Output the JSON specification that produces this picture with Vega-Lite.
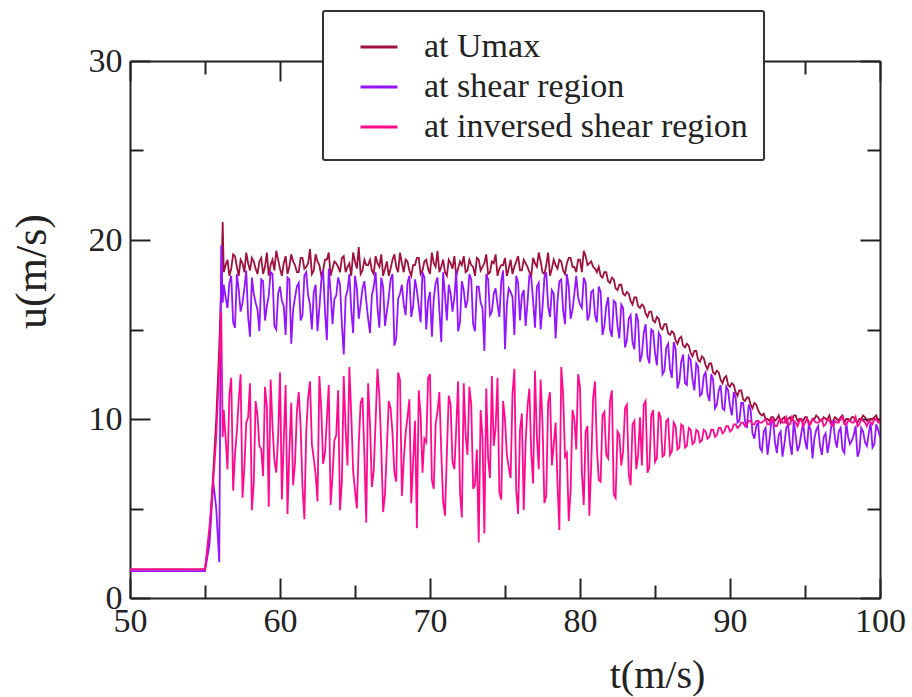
{
  "$schema": "https://vega.github.io/schema/vega-lite/v6.json",
  "width": 750,
  "height": 537,
  "autosize": {"type": "none"},
  "padding": {"left": 130, "top": 61, "right": 32, "bottom": 99},
  "background": "white",
  "config": {
    "font": "Liberation Serif",
    "view": {"stroke": null},
    "axis": {
      "domainColor": "#222",
      "domainWidth": 2,
      "tickColor": "#222",
      "tickWidth": 2,
      "grid": false,
      "labelFont": "Liberation Serif",
      "labelFontSize": 34,
      "labelColor": "#222",
      "titleFont": "Liberation Serif",
      "titleFontWeight": "normal",
      "titleColor": "#222",
      "labelOverlap": false,
      "labelFlush": false
    },
    "legend": {"strokeWidth": 2, "cornerRadius": 2, "labelFont": "Liberation Serif"}
  },
  "datasets": {
    "series": [
      {"t":50,"a":1.6,"b":1.5,"c":1.6},
      {"t":55,"a":1.6,"b":1.5,"c":1.6},
      {"t":55.3,"a":3.5,"b":3.0,"c":4.0},
      {"t":55.55,"a":7.0,"b":6.5,"c":6.5},
      {"t":55.75,"a":10.0,"b":5.0,"c":9.0},
      {"t":55.95,"a":14.0,"b":2.0,"c":13.0},
      {"t":56.08,"a":17.5,"b":19.7,"c":16.0},
      {"t":56.18,"a":21.0,"b":16.5,"c":9.0},
      {"t":56.25,"a":18.2,"b":17.5,"c":10.5},
      {"t":56.5,"a":18.9,"b":16.2,"c":7.2},
      {"t":56.75,"a":18.4,"b":18.0,"c":12.3},
      {"t":57,"a":19.1,"b":15.1,"c":8.0},
      {"t":57.25,"a":18.0,"b":17.2,"c":11.1},
      {"t":57.5,"a":18.7,"b":16.5,"c":5.6},
      {"t":57.75,"a":19.3,"b":18.3,"c":9.8},
      {"t":58,"a":18.3,"b":14.6,"c":12.0},
      {"t":58.25,"a":18.8,"b":17.0,"c":6.4},
      {"t":58.5,"a":18.1,"b":16.1,"c":10.2},
      {"t":58.75,"a":19.0,"b":17.8,"c":8.3},
      {"t":59,"a":18.5,"b":15.5,"c":11.8},
      {"t":59.25,"a":18.0,"b":16.9,"c":5.1},
      {"t":59.5,"a":18.9,"b":18.1,"c":9.6},
      {"t":59.75,"a":19.4,"b":15.0,"c":7.0},
      {"t":60,"a":18.4,"b":17.4,"c":12.6},
      {"t":60.25,"a":18.7,"b":16.3,"c":8.8},
      {"t":60.5,"a":18.1,"b":17.9,"c":4.7},
      {"t":60.75,"a":19.2,"b":14.2,"c":10.9},
      {"t":61,"a":18.6,"b":16.8,"c":7.5},
      {"t":61.25,"a":18.2,"b":17.6,"c":11.5},
      {"t":61.5,"a":19.0,"b":15.8,"c":6.2},
      {"t":61.75,"a":18.5,"b":18.2,"c":9.3},
      {"t":62,"a":19.5,"b":16.4,"c":12.1},
      {"t":62.25,"a":18.3,"b":17.1,"c":7.8},
      {"t":62.5,"a":18.8,"b":14.9,"c":5.4},
      {"t":62.75,"a":18.0,"b":17.7,"c":10.6},
      {"t":63,"a":18.9,"b":16.0,"c":8.1},
      {"t":63.25,"a":19.3,"b":18.4,"c":11.9},
      {"t":63.5,"a":18.4,"b":15.3,"c":6.8},
      {"t":63.75,"a":18.7,"b":16.9,"c":9.1},
      {"t":64,"a":18.2,"b":17.5,"c":4.9},
      {"t":64.25,"a":19.1,"b":13.6,"c":12.4},
      {"t":64.5,"a":18.5,"b":17.2,"c":7.4},
      {"t":64.75,"a":18.0,"b":16.1,"c":10.3},
      {"t":65,"a":18.8,"b":18.0,"c":6.0},
      {"t":65.25,"a":19.6,"b":15.6,"c":8.6},
      {"t":65.5,"a":18.3,"b":17.3,"c":11.2},
      {"t":65.75,"a":18.6,"b":16.6,"c":4.2},
      {"t":66,"a":18.9,"b":14.8,"c":9.7},
      {"t":66.25,"a":18.1,"b":17.4,"c":7.1},
      {"t":66.5,"a":18.7,"b":16.2,"c":12.8},
      {"t":66.75,"a":19.2,"b":17.9,"c":8.4},
      {"t":67,"a":18.4,"b":15.2,"c":5.8},
      {"t":67.25,"a":18.0,"b":16.8,"c":11.0},
      {"t":67.5,"a":18.9,"b":18.1,"c":9.2},
      {"t":67.75,"a":18.5,"b":14.5,"c":6.5},
      {"t":68,"a":19.3,"b":17.0,"c":12.2},
      {"t":68.25,"a":18.2,"b":16.4,"c":7.7},
      {"t":68.5,"a":18.8,"b":17.6,"c":10.1},
      {"t":68.75,"a":18.0,"b":15.7,"c":5.3},
      {"t":69,"a":18.6,"b":17.8,"c":9.9},
      {"t":69.25,"a":19.0,"b":16.3,"c":11.6},
      {"t":69.5,"a":18.3,"b":18.2,"c":7.0},
      {"t":69.75,"a":18.9,"b":15.0,"c":8.7},
      {"t":70,"a":18.1,"b":17.1,"c":12.5},
      {"t":70.25,"a":18.7,"b":16.7,"c":6.1},
      {"t":70.5,"a":19.4,"b":17.9,"c":10.4},
      {"t":70.75,"a":18.5,"b":14.3,"c":8.2},
      {"t":71,"a":18.2,"b":16.9,"c":4.6},
      {"t":71.25,"a":18.9,"b":17.5,"c":11.3},
      {"t":71.5,"a":18.4,"b":16.0,"c":7.6},
      {"t":71.75,"a":18.0,"b":18.3,"c":9.5},
      {"t":72,"a":18.8,"b":15.4,"c":5.9},
      {"t":72.25,"a":19.1,"b":17.2,"c":12.0},
      {"t":72.5,"a":18.3,"b":16.6,"c":8.0},
      {"t":72.75,"a":18.6,"b":17.8,"c":10.8},
      {"t":73,"a":18.0,"b":14.9,"c":6.3},
      {"t":73.25,"a":18.9,"b":17.4,"c":3.1},
      {"t":73.5,"a":18.5,"b":16.2,"c":9.0},
      {"t":73.75,"a":19.2,"b":18.1,"c":11.7},
      {"t":74,"a":18.2,"b":15.8,"c":6.7},
      {"t":74.25,"a":18.7,"b":17.0,"c":8.5},
      {"t":74.5,"a":18.0,"b":16.4,"c":12.3},
      {"t":74.75,"a":18.6,"b":17.7,"c":5.5},
      {"t":75,"a":19.0,"b":13.9,"c":10.0},
      {"t":75.25,"a":18.4,"b":17.3,"c":7.3},
      {"t":75.5,"a":18.1,"b":16.8,"c":11.4},
      {"t":75.75,"a":18.8,"b":18.0,"c":6.0},
      {"t":76,"a":18.3,"b":15.5,"c":9.4},
      {"t":76.25,"a":18.9,"b":17.2,"c":4.9},
      {"t":76.5,"a":18.5,"b":16.5,"c":10.7},
      {"t":76.75,"a":18.0,"b":17.9,"c":8.1},
      {"t":77,"a":18.7,"b":15.1,"c":12.7},
      {"t":77.25,"a":19.3,"b":17.6,"c":7.2},
      {"t":77.5,"a":18.2,"b":16.2,"c":9.8},
      {"t":77.75,"a":18.6,"b":18.2,"c":5.7},
      {"t":78,"a":18.0,"b":15.7,"c":11.5},
      {"t":78.25,"a":18.9,"b":17.0,"c":8.6},
      {"t":78.5,"a":18.4,"b":16.6,"c":6.4},
      {"t":78.75,"a":18.8,"b":17.8,"c":12.9},
      {"t":79,"a":18.1,"b":15.3,"c":7.9},
      {"t":79.25,"a":19.0,"b":17.4,"c":4.3},
      {"t":79.5,"a":18.5,"b":16.1,"c":10.5},
      {"t":79.75,"a":18.2,"b":18.0,"c":8.3},
      {"t":80,"a":18.9,"b":16.4,"c":11.8},
      {"t":80.25,"a":19.4,"b":17.9,"c":5.2},
      {"t":80.5,"a":18.6,"b":15.5,"c":9.6},
      {"t":80.75,"a":18.8,"b":17.1,"c":7.5},
      {"t":81,"a":18.4,"b":15.8,"c":12.1},
      {"t":81.25,"a":18.5,"b":17.4,"c":6.6},
      {"t":81.5,"a":17.9,"b":14.7,"c":10.2},
      {"t":81.75,"a":18.2,"b":16.3,"c":8.0},
      {"t":82,"a":17.6,"b":15.0,"c":11.0},
      {"t":82.25,"a":17.8,"b":16.6,"c":5.8},
      {"t":82.5,"a":17.2,"b":15.2,"c":9.3},
      {"t":82.75,"a":17.5,"b":16.4,"c":7.4},
      {"t":83,"a":16.9,"b":14.0,"c":10.6},
      {"t":83.25,"a":17.0,"b":15.6,"c":6.9},
      {"t":83.5,"a":16.4,"b":14.3,"c":9.7},
      {"t":83.75,"a":16.8,"b":15.9,"c":7.2},
      {"t":84,"a":16.2,"b":13.2,"c":10.1},
      {"t":84.25,"a":16.3,"b":14.8,"c":10.8},
      {"t":84.5,"a":15.7,"b":13.5,"c":7.0},
      {"t":84.75,"a":16.0,"b":15.0,"c":10.2},
      {"t":85,"a":15.4,"b":13.7,"c":7.6},
      {"t":85.25,"a":15.6,"b":14.8,"c":10.4},
      {"t":85.5,"a":15.0,"b":12.5,"c":7.9},
      {"t":85.75,"a":15.3,"b":14.0,"c":9.9},
      {"t":86,"a":14.7,"b":12.8,"c":8.0},
      {"t":86.25,"a":14.8,"b":14.3,"c":9.8},
      {"t":86.5,"a":14.2,"b":11.7,"c":8.3},
      {"t":86.75,"a":14.6,"b":13.2,"c":9.7},
      {"t":87,"a":14.0,"b":12.0,"c":8.4},
      {"t":87.25,"a":14.1,"b":13.5,"c":9.5},
      {"t":87.5,"a":13.5,"b":12.2,"c":8.6},
      {"t":87.75,"a":13.8,"b":13.1,"c":9.4},
      {"t":88,"a":13.2,"b":11.3,"c":8.7},
      {"t":88.25,"a":13.4,"b":12.4,"c":9.4},
      {"t":88.5,"a":12.8,"b":11.4,"c":8.9},
      {"t":88.75,"a":13.1,"b":12.5,"c":9.4},
      {"t":89,"a":12.5,"b":10.6,"c":9.0},
      {"t":89.25,"a":12.6,"b":11.6,"c":9.5},
      {"t":89.5,"a":12.0,"b":10.6,"c":9.2},
      {"t":89.75,"a":12.4,"b":11.8,"c":9.6},
      {"t":90,"a":11.8,"b":10.7,"c":9.3},
      {"t":90.25,"a":11.9,"b":11.5,"c":9.7},
      {"t":90.5,"a":11.3,"b":9.8,"c":9.5},
      {"t":90.75,"a":11.6,"b":10.9,"c":9.8},
      {"t":91,"a":11.0,"b":9.9,"c":9.6},
      {"t":91.25,"a":11.2,"b":10.8,"c":9.9},
      {"t":91.5,"a":10.6,"b":9.2,"c":9.7},
      {"t":91.75,"a":10.8,"b":9.6,"c":9.9},
      {"t":92,"a":10.3,"b":8.4,"c":9.8},
      {"t":92.25,"a":10.3,"b":9.3,"c":9.9},
      {"t":92.5,"a":10.0,"b":8.0,"c":9.7},
      {"t":92.75,"a":10.1,"b":9.8,"c":10.0},
      {"t":93,"a":9.9,"b":8.7,"c":9.6},
      {"t":93.25,"a":10.2,"b":9.1,"c":9.9},
      {"t":93.5,"a":10.0,"b":7.9,"c":9.8},
      {"t":93.75,"a":9.8,"b":9.5,"c":10.1},
      {"t":94,"a":10.1,"b":8.6,"c":9.7},
      {"t":94.25,"a":10.2,"b":9.9,"c":9.9},
      {"t":94.5,"a":9.9,"b":8.2,"c":9.6},
      {"t":94.75,"a":10.0,"b":9.2,"c":10.0},
      {"t":95,"a":10.1,"b":8.8,"c":9.8},
      {"t":95.25,"a":9.8,"b":9.7,"c":9.7},
      {"t":95.5,"a":10.0,"b":7.8,"c":10.0},
      {"t":95.75,"a":10.2,"b":9.4,"c":9.8},
      {"t":96,"a":9.9,"b":8.5,"c":9.9},
      {"t":96.25,"a":10.1,"b":9.0,"c":9.6},
      {"t":96.5,"a":10.0,"b":8.1,"c":10.0},
      {"t":96.75,"a":9.8,"b":9.6,"c":9.7},
      {"t":97,"a":10.1,"b":8.9,"c":9.9},
      {"t":97.25,"a":9.9,"b":9.3,"c":9.8},
      {"t":97.5,"a":10.2,"b":8.3,"c":10.1},
      {"t":97.75,"a":10.0,"b":9.8,"c":9.7},
      {"t":98,"a":9.9,"b":8.6,"c":9.9},
      {"t":98.25,"a":10.1,"b":9.1,"c":9.8},
      {"t":98.5,"a":9.8,"b":7.9,"c":9.6},
      {"t":98.75,"a":10.0,"b":9.5,"c":10.0},
      {"t":99,"a":10.1,"b":8.7,"c":9.8},
      {"t":99.25,"a":9.9,"b":9.2,"c":9.9},
      {"t":99.5,"a":10.0,"b":8.4,"c":9.7},
      {"t":99.75,"a":10.2,"b":9.7,"c":10.0},
      {"t":100,"a":9.9,"b":9.0,"c":9.8},
      {"t":56.375,"a":18.6,"b":16.8,"c":8.9},
      {"t":56.625,"a":18.0,"b":17.6,"c":11.4},
      {"t":56.875,"a":19.2,"b":15.4,"c":6.0},
      {"t":57.125,"a":18.5,"b":18.1,"c":9.3},
      {"t":57.375,"a":18.9,"b":16.0,"c":12.5},
      {"t":57.625,"a":18.2,"b":17.3,"c":7.3},
      {"t":57.875,"a":18.7,"b":15.7,"c":10.1},
      {"t":58.125,"a":19.0,"b":17.9,"c":4.9},
      {"t":58.375,"a":18.4,"b":16.5,"c":11.0},
      {"t":58.625,"a":18.8,"b":14.9,"c":8.5},
      {"t":58.875,"a":18.1,"b":17.7,"c":6.8},
      {"t":59.125,"a":19.3,"b":16.3,"c":10.7},
      {"t":59.375,"a":18.6,"b":18.2,"c":12.2},
      {"t":59.625,"a":18.3,"b":15.2,"c":7.7},
      {"t":59.875,"a":18.9,"b":17.0,"c":9.0},
      {"t":60.125,"a":18.0,"b":16.6,"c":5.5},
      {"t":60.375,"a":19.1,"b":14.7,"c":11.9},
      {"t":60.625,"a":18.5,"b":17.8,"c":8.2},
      {"t":60.875,"a":18.8,"b":16.1,"c":6.3},
      {"t":61.125,"a":18.2,"b":17.4,"c":10.4},
      {"t":61.375,"a":19.0,"b":15.5,"c":9.6},
      {"t":61.625,"a":18.4,"b":18.0,"c":4.4},
      {"t":61.875,"a":18.7,"b":16.9,"c":11.2},
      {"t":62.125,"a":18.1,"b":15.0,"c":8.6},
      {"t":62.375,"a":19.2,"b":17.5,"c":6.9},
      {"t":62.625,"a":18.6,"b":16.2,"c":12.4},
      {"t":62.875,"a":18.3,"b":18.3,"c":7.5},
      {"t":63.125,"a":18.9,"b":14.4,"c":10.0},
      {"t":63.375,"a":18.0,"b":17.1,"c":5.2},
      {"t":63.625,"a":18.8,"b":16.7,"c":8.8},
      {"t":63.875,"a":18.5,"b":17.9,"c":11.6},
      {"t":64.125,"a":19.0,"b":15.3,"c":6.5},
      {"t":64.375,"a":18.2,"b":16.8,"c":9.4},
      {"t":64.625,"a":18.7,"b":18.1,"c":12.9},
      {"t":64.875,"a":19.3,"b":14.8,"c":7.1},
      {"t":65.125,"a":18.4,"b":17.3,"c":5.0},
      {"t":65.375,"a":18.1,"b":16.4,"c":10.9},
      {"t":65.625,"a":18.9,"b":17.7,"c":8.0},
      {"t":65.875,"a":18.6,"b":15.6,"c":12.0},
      {"t":66.125,"a":18.3,"b":16.9,"c":6.2},
      {"t":66.375,"a":19.1,"b":18.2,"c":9.9},
      {"t":66.625,"a":18.5,"b":15.1,"c":11.3},
      {"t":66.875,"a":18.0,"b":17.4,"c":4.8},
      {"t":67.125,"a":18.8,"b":16.0,"c":8.4},
      {"t":67.375,"a":18.4,"b":17.8,"c":10.6},
      {"t":67.625,"a":19.2,"b":14.1,"c":7.0},
      {"t":67.875,"a":18.2,"b":16.7,"c":12.6},
      {"t":68.125,"a":18.7,"b":17.5,"c":5.7},
      {"t":68.375,"a":18.9,"b":15.8,"c":9.2},
      {"t":68.625,"a":18.3,"b":18.0,"c":11.1},
      {"t":68.875,"a":18.6,"b":16.3,"c":7.6},
      {"t":69.125,"a":19.0,"b":17.2,"c":3.9},
      {"t":69.375,"a":18.1,"b":15.4,"c":10.2},
      {"t":69.625,"a":18.8,"b":17.9,"c":8.9},
      {"t":69.875,"a":18.4,"b":16.6,"c":12.3},
      {"t":70.125,"a":19.3,"b":14.6,"c":6.6},
      {"t":70.375,"a":18.5,"b":17.6,"c":9.7},
      {"t":70.625,"a":18.2,"b":16.1,"c":11.5},
      {"t":70.875,"a":18.9,"b":18.2,"c":5.4},
      {"t":71.125,"a":18.0,"b":15.5,"c":8.1},
      {"t":71.375,"a":18.7,"b":17.0,"c":10.8},
      {"t":71.625,"a":19.1,"b":16.8,"c":7.2},
      {"t":71.875,"a":18.4,"b":14.9,"c":12.1},
      {"t":72.125,"a":18.6,"b":17.7,"c":4.5},
      {"t":72.375,"a":18.2,"b":16.2,"c":9.1},
      {"t":72.625,"a":18.9,"b":18.1,"c":11.8},
      {"t":72.875,"a":18.5,"b":15.3,"c":6.1},
      {"t":73.125,"a":19.0,"b":17.4,"c":8.3},
      {"t":73.375,"a":18.3,"b":16.5,"c":10.5},
      {"t":73.625,"a":18.7,"b":13.8,"c":3.6},
      {"t":73.875,"a":18.1,"b":17.8,"c":7.8},
      {"t":74.125,"a":18.8,"b":16.0,"c":12.4},
      {"t":74.375,"a":19.2,"b":17.3,"c":9.5},
      {"t":74.625,"a":18.4,"b":15.7,"c":5.9},
      {"t":74.875,"a":18.6,"b":18.3,"c":11.0},
      {"t":75.125,"a":18.0,"b":16.4,"c":8.0},
      {"t":75.375,"a":18.9,"b":17.1,"c":6.7},
      {"t":75.625,"a":18.5,"b":14.7,"c":12.8},
      {"t":75.875,"a":19.1,"b":17.6,"c":4.7},
      {"t":76.125,"a":18.3,"b":16.9,"c":10.3},
      {"t":76.375,"a":18.7,"b":15.2,"c":8.7},
      {"t":76.625,"a":18.2,"b":18.0,"c":11.7},
      {"t":76.875,"a":19.0,"b":16.6,"c":6.4},
      {"t":77.125,"a":18.5,"b":17.4,"c":9.0},
      {"t":77.375,"a":18.8,"b":15.0,"c":12.2},
      {"t":77.625,"a":18.1,"b":17.9,"c":5.3},
      {"t":77.875,"a":19.3,"b":16.3,"c":10.9},
      {"t":78.125,"a":18.4,"b":17.2,"c":7.4},
      {"t":78.375,"a":18.6,"b":14.5,"c":9.8},
      {"t":78.625,"a":18.9,"b":17.7,"c":3.8},
      {"t":78.875,"a":18.3,"b":16.1,"c":11.4},
      {"t":79.125,"a":18.7,"b":18.1,"c":8.1},
      {"t":79.375,"a":19.0,"b":15.6,"c":6.0},
      {"t":79.625,"a":18.5,"b":17.0,"c":10.0},
      {"t":79.875,"a":18.9,"b":16.8,"c":12.5},
      {"t":80.125,"a":18.2,"b":16.2,"c":7.0},
      {"t":80.375,"a":19.1,"b":17.6,"c":9.3},
      {"t":80.625,"a":18.7,"b":15.8,"c":4.6},
      {"t":80.875,"a":18.5,"b":17.2,"c":11.2},
      {"t":81.125,"a":18.2,"b":15.4,"c":8.4},
      {"t":81.375,"a":18.0,"b":17.1,"c":6.5},
      {"t":81.625,"a":18.2,"b":15.2,"c":10.4},
      {"t":81.875,"a":17.7,"b":16.8,"c":7.8},
      {"t":82.125,"a":17.9,"b":14.6,"c":11.6},
      {"t":82.375,"a":17.3,"b":16.5,"c":5.6},
      {"t":82.625,"a":17.5,"b":14.5,"c":9.1},
      {"t":82.875,"a":17.0,"b":16.2,"c":8.2},
      {"t":83.125,"a":17.1,"b":14.4,"c":10.8},
      {"t":83.375,"a":16.6,"b":15.8,"c":6.3},
      {"t":83.625,"a":16.8,"b":13.9,"c":9.9},
      {"t":83.875,"a":16.3,"b":15.5,"c":8.0},
      {"t":84.125,"a":16.4,"b":13.6,"c":7.4},
      {"t":84.375,"a":15.9,"b":15.3,"c":11.0},
      {"t":84.625,"a":16.0,"b":13.1,"c":7.3},
      {"t":84.875,"a":15.5,"b":14.9,"c":10.5},
      {"t":85.125,"a":15.7,"b":13.0,"c":7.8},
      {"t":85.375,"a":15.1,"b":14.6,"c":10.1},
      {"t":85.625,"a":15.3,"b":12.7,"c":8.0},
      {"t":85.875,"a":14.8,"b":14.2,"c":10.0},
      {"t":86.125,"a":14.9,"b":12.3,"c":8.2},
      {"t":86.375,"a":14.4,"b":13.9,"c":9.6},
      {"t":86.625,"a":14.5,"b":12.1,"c":8.4},
      {"t":86.875,"a":14.1,"b":13.6,"c":9.6},
      {"t":87.125,"a":14.2,"b":11.9,"c":8.5},
      {"t":87.375,"a":13.7,"b":13.3,"c":9.4},
      {"t":87.625,"a":13.8,"b":11.6,"c":8.7},
      {"t":87.875,"a":13.3,"b":12.9,"c":9.3},
      {"t":88.125,"a":13.5,"b":11.4,"c":8.8},
      {"t":88.375,"a":13.0,"b":12.6,"c":9.3},
      {"t":88.625,"a":13.1,"b":11.0,"c":9.0},
      {"t":88.875,"a":12.6,"b":12.2,"c":9.4},
      {"t":89.125,"a":12.7,"b":10.8,"c":9.1},
      {"t":89.375,"a":12.2,"b":11.9,"c":9.5},
      {"t":89.625,"a":12.3,"b":10.5,"c":9.3},
      {"t":89.875,"a":11.9,"b":11.6,"c":9.6},
      {"t":90.125,"a":12.0,"b":10.2,"c":9.4},
      {"t":90.375,"a":11.5,"b":11.2,"c":9.7},
      {"t":90.625,"a":11.6,"b":9.9,"c":9.6},
      {"t":90.875,"a":11.1,"b":10.9,"c":9.8},
      {"t":91.125,"a":11.2,"b":9.5,"c":9.7},
      {"t":91.375,"a":10.8,"b":10.5,"c":9.9},
      {"t":91.625,"a":10.9,"b":8.9,"c":9.7},
      {"t":91.875,"a":10.5,"b":9.8,"c":9.9},
      {"t":92.125,"a":10.2,"b":8.2,"c":9.8},
      {"t":92.375,"a":10.0,"b":9.5,"c":10.0},
      {"t":92.625,"a":9.9,"b":8.8,"c":9.7},
      {"t":92.875,"a":10.1,"b":9.9,"c":9.9},
      {"t":93.125,"a":10.0,"b":8.1,"c":9.6},
      {"t":93.375,"a":9.8,"b":9.3,"c":10.0},
      {"t":93.625,"a":10.1,"b":8.6,"c":9.8},
      {"t":93.875,"a":10.0,"b":9.7,"c":9.7},
      {"t":94.125,"a":9.9,"b":8.0,"c":10.1},
      {"t":94.375,"a":10.2,"b":9.1,"c":9.8},
      {"t":94.625,"a":10.0,"b":8.5,"c":9.9},
      {"t":94.875,"a":9.9,"b":9.8,"c":9.6},
      {"t":95.125,"a":10.1,"b":8.3,"c":10.0},
      {"t":95.375,"a":9.8,"b":9.4,"c":9.7},
      {"t":95.625,"a":10.0,"b":8.9,"c":9.9},
      {"t":95.875,"a":10.1,"b":9.6,"c":9.8},
      {"t":96.125,"a":9.9,"b":8.0,"c":10.0},
      {"t":96.375,"a":10.0,"b":9.2,"c":9.7},
      {"t":96.625,"a":10.2,"b":8.7,"c":9.9},
      {"t":96.875,"a":9.9,"b":9.9,"c":9.6},
      {"t":97.125,"a":10.0,"b":8.4,"c":9.8},
      {"t":97.375,"a":10.1,"b":9.5,"c":10.0},
      {"t":97.625,"a":9.8,"b":8.1,"c":9.7},
      {"t":97.875,"a":10.0,"b":9.0,"c":9.9},
      {"t":98.125,"a":10.1,"b":8.8,"c":9.8},
      {"t":98.375,"a":9.9,"b":9.6,"c":10.1},
      {"t":98.625,"a":10.0,"b":8.2,"c":9.7},
      {"t":98.875,"a":10.2,"b":9.3,"c":9.9},
      {"t":99.125,"a":9.9,"b":8.5,"c":9.6},
      {"t":99.375,"a":10.0,"b":9.8,"c":9.8},
      {"t":99.625,"a":10.1,"b":8.6,"c":10.0},
      {"t":99.875,"a":9.9,"b":9.4,"c":9.8}
    ],
    "frame": [{"t": 50, "u": 0}]
  },
  "layer": [
    {
      "data": {"name": "series"},
      "transform": [{"fold": ["a", "b", "c"], "as": ["s", "u"]}],
      "mark": {"type": "line", "strokeWidth": 1.8, "clip": true},
      "encoding": {
        "x": {
          "field": "t", "type": "quantitative",
          "scale": {"domain": [50, 100], "nice": false, "zero": false},
          "axis": {
            "orient": "bottom",
            "values": [50, 60, 70, 80, 90, 100],
            "tickSize": -20,
            "labelPadding": 26,
            "title": "t(m/s)",
            "titleFontSize": 40,
            "titleX": 527,
            "titleY": 89,
            "titleAlign": "center",
            "titleBaseline": "alphabetic"
          }
        },
        "y": {
          "field": "u", "type": "quantitative",
          "scale": {"domain": [0, 30], "nice": false},
          "axis": {
            "orient": "left",
            "values": [0, 10, 20, 30],
            "tickSize": -20,
            "labelPadding": 28,
            "title": "u(m/s)",
            "titleFontSize": 44,
            "titleAngle": 270,
            "titleX": -98,
            "titleY": 210,
            "titleAlign": "center",
            "titleBaseline": "middle"
          }
        },
        "color": {
          "field": "s", "type": "nominal",
          "scale": {"domain": ["a", "b", "c"], "range": ["#a0103c", "#9414ff", "#ff0a8f"]},
          "legend": {
            "orient": "none",
            "legendX": 193,
            "legendY": -50,
            "title": null,
            "labelExpr": "datum.value === 'a' ? 'at Umax' : datum.value === 'b' ? 'at shear region' : 'at inversed shear region'",
            "symbolType": "stroke",
            "symbolSize": 1369,
            "symbolStrokeWidth": 3,
            "labelFont": "Liberation Serif",
            "labelFontSize": 34,
            "labelColor": "#222",
            "labelOffset": 25,
            "labelLimit": 600,
            "rowPadding": 3,
            "padding": 16,
            "symbolOffset": 20,
            "fillColor": "white",
            "strokeColor": "#333"
          }
        }
      }
    },
    {
      "data": {"name": "frame"},
      "mark": {"type": "point", "opacity": 0},
      "encoding": {
        "x": {
          "field": "t", "type": "quantitative",
          "axis": {"orient": "top", "values": [50, 60, 70, 80, 90, 100], "labels": false, "title": null, "tickSize": -20}
        },
        "y": {
          "field": "u", "type": "quantitative",
          "axis": {"orient": "right", "values": [0, 10, 20, 30], "labels": false, "title": null, "tickSize": -20}
        }
      }
    },
    {
      "data": {"name": "frame"},
      "mark": {"type": "point", "opacity": 0},
      "encoding": {
        "x": {
          "field": "t", "type": "quantitative",
          "axis": {"orient": "bottom", "values": [55, 65, 75, 85, 95], "labels": false, "domain": false, "title": null, "tickSize": -13}
        },
        "y": {
          "field": "u", "type": "quantitative",
          "axis": {"orient": "left", "values": [5, 15, 25], "labels": false, "domain": false, "title": null, "tickSize": -13}
        }
      }
    },
    {
      "data": {"name": "frame"},
      "mark": {"type": "point", "opacity": 0},
      "encoding": {
        "x": {
          "field": "t", "type": "quantitative",
          "axis": {"orient": "top", "values": [55, 65, 75, 85, 95], "labels": false, "domain": false, "title": null, "tickSize": -13}
        },
        "y": {
          "field": "u", "type": "quantitative",
          "axis": {"orient": "right", "values": [5, 15, 25], "labels": false, "domain": false, "title": null, "tickSize": -13}
        }
      }
    }
  ],
  "resolve": {"axis": {"x": "independent", "y": "independent"}}
}
